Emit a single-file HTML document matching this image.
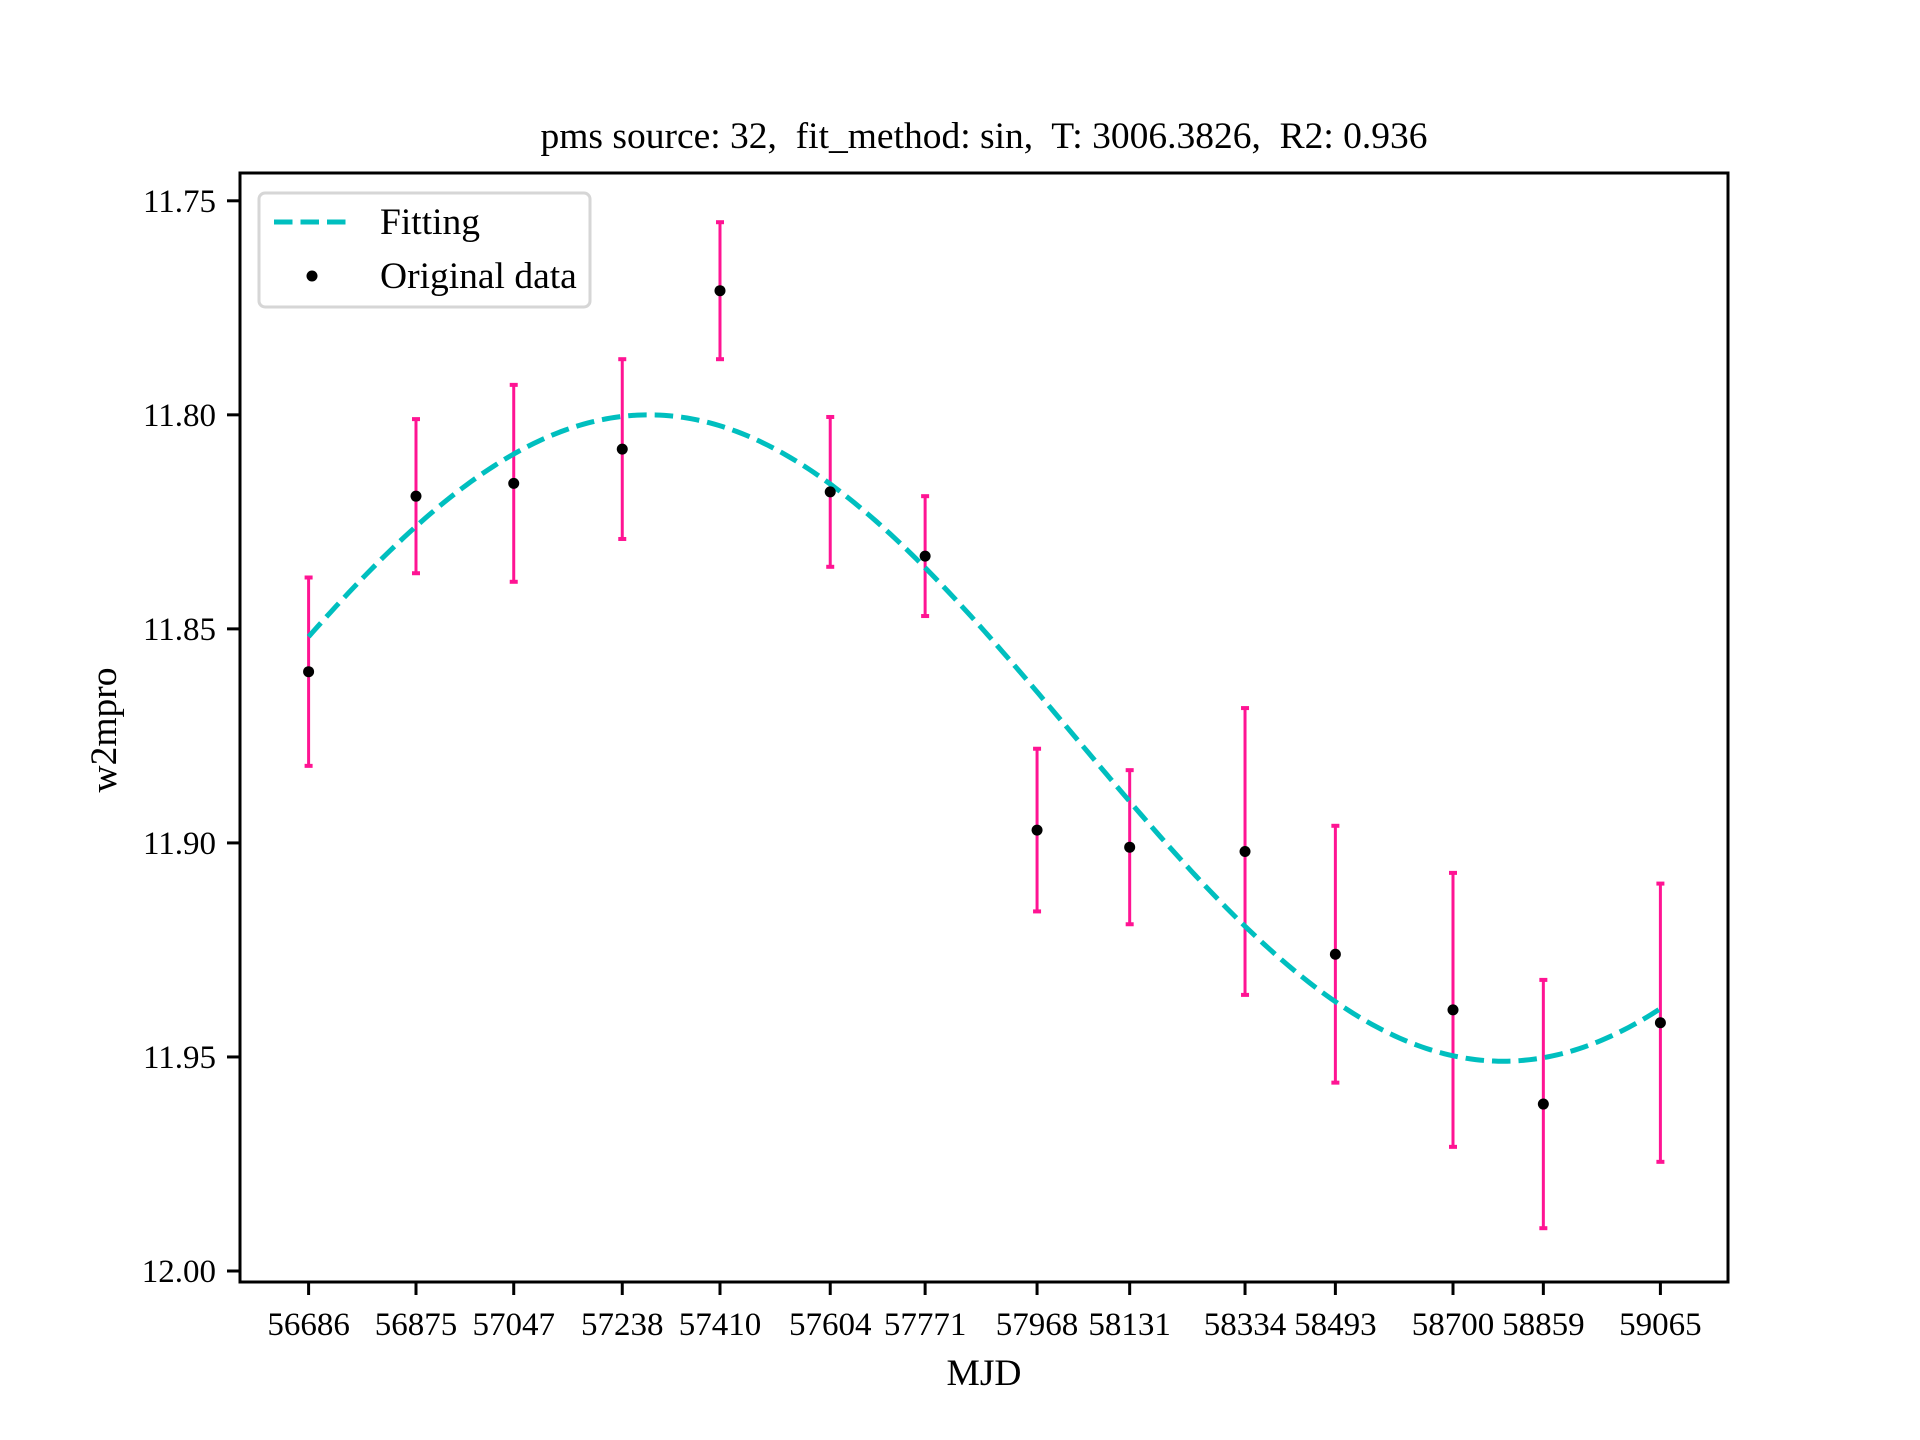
<!DOCTYPE html>
<html><head><meta charset="utf-8"><style>
html,body{margin:0;padding:0;background:#fff}
svg{display:block}
text{font-family:"Liberation Serif","DejaVu Serif",serif;fill:#000}
</style></head><body>
<svg id="chart" width="1920" height="1440" viewBox="0 0 1920 1440" xmlns="http://www.w3.org/2000/svg">
<rect width="1920" height="1440" fill="#fff"/>
<text x="984" y="148" font-size="37.5" text-anchor="middle" style="white-space:pre" xml:space="preserve">pms source: 32,  fit_method: sin,  T: 3006.3826,  R2: 0.936</text>
<g id="plot"></g>
<text x="984" y="1385" font-size="37.5" text-anchor="middle">MJD</text>
<text x="0" y="0" font-size="37.5" text-anchor="middle" transform="translate(116,730) rotate(-90)">w2mpro</text>
</svg>
<script>
const mjd = [56686,56875,57047,57238,57410,57604,57771,57968,58131,58334,58493,58700,58859,59065];
const mag = [11.860,11.819,11.816,11.808,11.771,11.818,11.833,11.897,11.901,11.902,11.926,11.939,11.961,11.942];
const err = [0.022,0.018,0.023,0.021,0.016,0.0175,0.014,0.019,0.018,0.0335,0.030,0.032,0.029,0.0325];
const yTicks = [11.75,11.80,11.85,11.90,11.95,12.00];
const yTickLabels = ["11.75","11.80","11.85","11.90","11.95","12.00"];
const fitParams = [11.8755, 0.0755, 3006.3826, 57285];

const NS="http://www.w3.org/2000/svg";
const L=240,R=1728,T=173,B=1282;
const x0=56686,x1=59065,px0=308.6,px1=1660.4;
const X=v=>px0+(v-x0)*(px1-px0)/(x1-x0);
const Y=v=>200.8+(v-11.75)*(1271-200.8)/0.25;
const g=document.getElementById('plot');
function el(t,a,p){const e=document.createElementNS(NS,t);for(const k in a)e.setAttribute(k,a[k]);(p||g).appendChild(e);return e;}

mjd.forEach((m,i)=>{
  const x=X(m), yt=Y(mag[i]-err[i]), yb=Y(mag[i]+err[i]);
  const gg=el('g',{});
  
  
  el('line',{x1:x,x2:x,y1:yt,y2:yb,stroke:'#ff1493','stroke-width':3},gg);
  el('line',{x1:x-4,x2:x+4,y1:yt,y2:yt,stroke:'#ff1493','stroke-width':4},gg);
  el('line',{x1:x-4,x2:x+4,y1:yb,y2:yb,stroke:'#ff1493','stroke-width':4},gg);
});
let d='';
for(let k=0;k<=300;k++){
  const t=x0+(x1-x0)*k/300;
  const v=fitParams[0]-fitParams[1]*Math.cos(2*Math.PI*(t-fitParams[3])/fitParams[2]);
  d+=(k?'L':'M')+X(t).toFixed(2)+','+Y(v).toFixed(2);
}
const fit=el('path',{d:d,fill:'none',stroke:'#00bfbf','stroke-width':5,'stroke-dasharray':'18.5 8'});


mjd.forEach((m,i)=>{
  const c=el('circle',{cx:X(m),cy:Y(mag[i]),r:5.5,fill:'#000'});
  
  
});
const fr=el('rect',{x:L,y:T,width:R-L,height:B-T,fill:'none',stroke:'#000','stroke-width':3});


mjd.forEach(m=>{
  const x=X(m);
  el('line',{x1:x,x2:x,y1:B,y2:B+13,stroke:'#000','stroke-width':3});
  const t=el('text',{x:x,y:1335,'font-size':33,'text-anchor':'middle'});
  t.textContent=String(m);
  
  
});
yTicks.forEach((v,i)=>{
  const y=Y(v);
  el('line',{x1:L-13,x2:L,y1:y,y2:y,stroke:'#000','stroke-width':3});
  const t=el('text',{x:L-24,y:y+11,'font-size':33,'text-anchor':'end'});
  t.textContent=yTickLabels[i];
  
  
});
const lg=el('g',{});


el('rect',{x:259,y:193,width:331,height:114,rx:6,fill:'#fff','fill-opacity':0.8,stroke:'#d6d6d6','stroke-width':3},lg);
el('line',{x1:274,x2:349,y1:222,y2:222,stroke:'#00bfbf','stroke-width':5,'stroke-dasharray':'18.5 8'},lg);
el('circle',{cx:312,cy:276,r:5.5,fill:'#000'},lg);
const t1=el('text',{x:380,y:234,'font-size':37.5},lg);t1.textContent='Fitting';


const t2=el('text',{x:380,y:288,'font-size':37.5},lg);t2.textContent='Original data';


</script>
</body></html>
